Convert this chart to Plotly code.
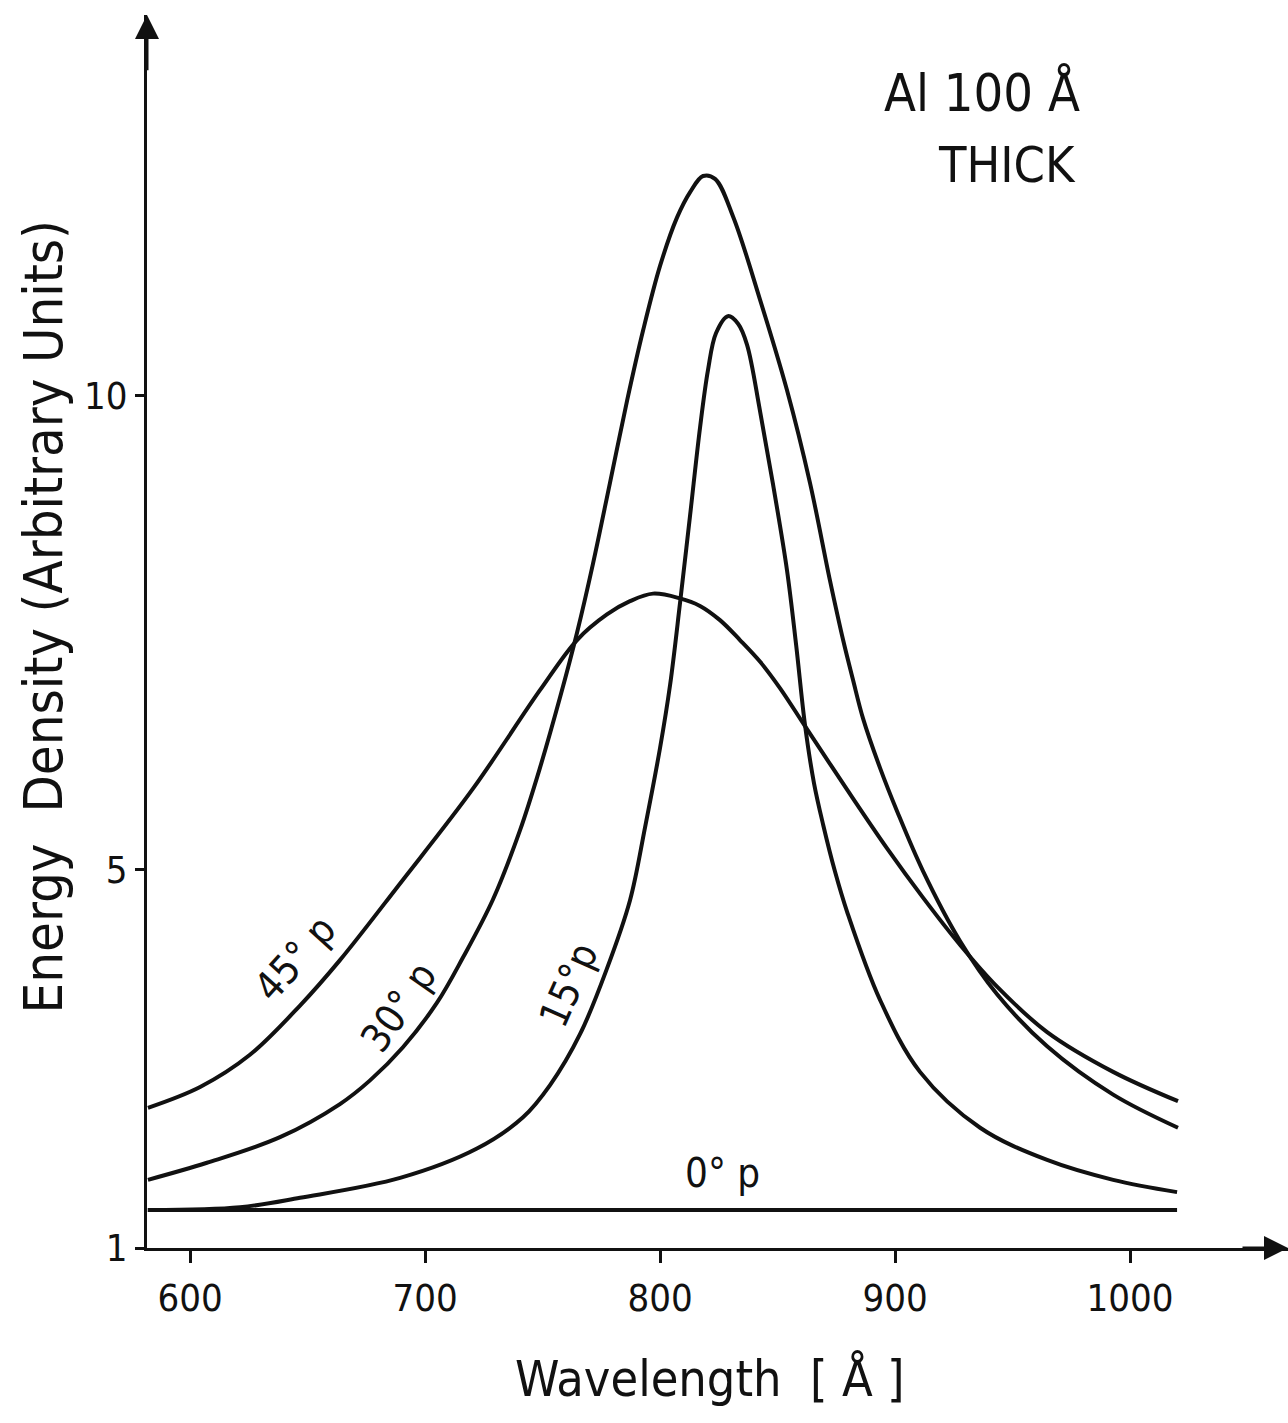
import plotly.graph_objects as go

# ---- data ----
wl_45 = [582.1, 604.3, 625.5, 646.8, 663.8, 689.4, 720.4, 748.9, 764.7, 777.4, 787.2, 797.0, 808.5, 817.0, 825.5,
         834.0, 842.6, 851.1, 861.7, 879.6, 896.6, 911.9, 927.7, 943.4, 964.7, 992.8, 1020.4]
en_45 = [2.48, 2.70, 3.04, 3.56, 4.04, 4.85, 5.85, 6.89, 7.42, 7.69, 7.83, 7.91, 7.86, 7.78, 7.63,
         7.42, 7.19, 6.91, 6.51, 5.84, 5.22, 4.70, 4.20, 3.76, 3.28, 2.86, 2.55]

wl_30 = [582.1, 607.2, 638.3, 663.8, 676.6, 690.6, 705.1, 716.2, 728.9, 740.4, 748.9, 757.4, 764.7, 771.5, 778.7,
         786.0, 792.8, 800.0, 807.2, 812.8, 818.3, 823.4, 831.1, 842.6, 854.0, 863.8, 872.3, 877.9, 882.1, 886.4,
         893.6, 900.9, 911.9, 927.7, 943.4, 964.7, 992.8, 1020.4]
en_30 = [1.72, 1.90, 2.17, 2.52, 2.77, 3.12, 3.59, 4.07, 4.68, 5.41, 6.07, 6.81, 7.50, 8.23, 9.08,
         9.95, 10.69, 11.37, 11.88, 12.15, 12.32, 12.29, 11.89, 11.01, 10.06, 9.08, 8.05, 7.42, 7.00, 6.59,
         6.07, 5.61, 4.98, 4.24, 3.68, 3.13, 2.62, 2.27]

wl_15 = [583.0, 621.3, 646.8, 689.4, 722.1, 741.7, 753.2, 766.0, 777.4, 787.2, 793.6, 800.0, 804.3, 808.5, 812.8,
         817.0, 820.4, 823.8, 828.9, 833.2, 837.0, 842.6, 848.1, 854.0, 857.9, 861.7, 865.5, 869.4, 874.5, 879.6,
         893.6, 910.6, 936.2, 964.7, 992.8, 1020.0]
en_15 = [1.40, 1.43, 1.53, 1.74, 2.05, 2.38, 2.72, 3.26, 3.95, 4.67, 5.44, 6.28, 6.95, 7.81, 8.74,
         9.66, 10.27, 10.66, 10.84, 10.76, 10.54, 9.83, 9.06, 8.16, 7.37, 6.52, 5.91, 5.47, 4.97, 4.55,
         3.62, 2.86, 2.27, 1.93, 1.72, 1.59]

wl_0 = [582, 1020]
en_0 = [1.40, 1.40]

x_ticks = [600, 700, 800, 900, 1000]
y_ticks = [1, 5, 10]

FONT = "Liberation Sans Narrow, DejaVu Sans Condensed, Arial Narrow, sans-serif"
INK = "#111111"

fig = go.Figure()
for wl, en in [(wl_45, en_45), (wl_30, en_30), (wl_15, en_15), (wl_0, en_0)]:
    fig.add_trace(go.Scatter(x=wl, y=en, mode="lines",
                             line=dict(color=INK, width=4, shape="spline", smoothing=1.0),
                             showlegend=False, hoverinfo="skip"))

X0, X1 = 581.7, 1067.2
Y0, Y1 = 1.0, 14.02

fig.update_layout(
    width=1288, height=1423,
    margin=dict(l=147, r=0, t=15, b=175),
    paper_bgcolor="white", plot_bgcolor="white",
    font=dict(family=FONT, color=INK),
    xaxis=dict(range=[X0, X1], tickvals=x_ticks, ticktext=[str(v) for v in x_ticks],
               ticks="outside", ticklen=12, tickwidth=3, tickcolor=INK,
               showline=True, linewidth=3, linecolor=INK,
               showgrid=False, zeroline=False,
               tickfont=dict(size=38, family=FONT, color=INK), ticklabelstandoff=2),
    yaxis=dict(range=[Y0, Y1], tickvals=y_ticks, ticktext=[str(v) for v in y_ticks],
               ticks="outside", ticklen=9, tickwidth=3, tickcolor=INK,
               showline=True, linewidth=3, linecolor=INK,
               showgrid=False, zeroline=False,
               tickfont=dict(size=38, family=FONT, color=INK), ticklabelstandoff=0),
)

# axis arrowheads
fig.add_annotation(x=X1, y=Y0, ax=X1 - 20, ay=Y0, xref="x", yref="y", axref="x", ayref="y",
                   text="", showarrow=True, arrowhead=2, arrowsize=1.6, arrowwidth=3, arrowcolor=INK)
fig.add_annotation(x=X0, y=Y1, ax=X0, ay=Y1 - 0.6, xref="x", yref="y", axref="x", ayref="y",
                   text="", showarrow=True, arrowhead=2, arrowsize=1.6, arrowwidth=3, arrowcolor=INK)

NB = "\u00a0"
# axis titles
fig.add_annotation(x=-0.0905, y=0.512, xref="paper", yref="paper", xanchor="center", yanchor="middle",
                   text="Energy" + NB * 2 + "Density (Arbitrary Units)", textangle=-90,
                   showarrow=False, font=dict(size=54, family=FONT, color=INK))
fig.add_annotation(x=0.4934, y=-0.106, xref="paper", yref="paper", xanchor="center", yanchor="middle",
                   text="Wavelength" + NB * 2 + "[" + NB + "Å" + NB + "]",
                   showarrow=False, font=dict(size=50, family=FONT, color=INK))

# panel note
fig.add_annotation(x=0.8195, y=0.9375, xref="paper", yref="paper", xanchor="right", yanchor="middle",
                   text="Al 100 Å", showarrow=False, font=dict(size=52, family=FONT, color=INK))
fig.add_annotation(x=0.816, y=0.878, xref="paper", yref="paper", xanchor="right", yanchor="middle",
                   text="THICK", showarrow=False, font=dict(size=50, family=FONT, color=INK))

# curve labels
for txt, lx, ly, ang in [("45°" + NB + "p", 644.7, 4.06, -48),
                         ("30°" + NB + "p", 688.5, 3.55, -55),
                         ("15°p", 760.9, 3.78, -66),
                         ("0°" + NB + "p", 826.4, 1.79, 0)]:
    fig.add_annotation(x=lx, y=ly, xref="x", yref="y", xanchor="center", yanchor="middle",
                       text=txt, textangle=ang, showarrow=False,
                       font=dict(size=40, family=FONT, color=INK))

fig.write_html("out.html")
